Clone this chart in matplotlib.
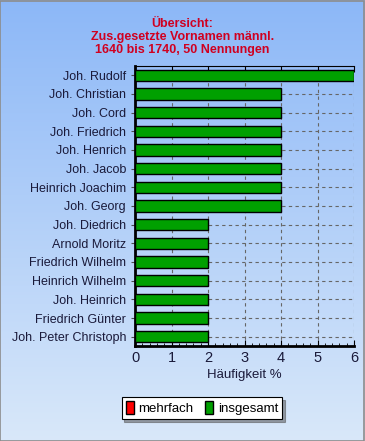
import matplotlib

matplotlib.use("Agg")
import matplotlib.pyplot as plt
import numpy as np
from matplotlib.patches import Patch, Rectangle
from matplotlib.ticker import MultipleLocator

plt.rcParams["font.family"] = ["Liberation Sans", "DejaVu Sans"]

names = ["Joh. Rudolf", "Joh. Christian", "Joh. Cord", "Joh. Friedrich",
         "Joh. Henrich", "Joh. Jacob", "Heinrich Joachim", "Joh. Georg",
         "Joh. Diedrich", "Arnold Moritz", "Friedrich Wilhelm",
         "Heinrich Wilhelm", "Joh. Heinrich", "Friedrich Günter",
         "Joh. Peter Christoph"]
insgesamt = [6, 4, 4, 4, 4, 4, 4, 4, 2, 2, 2, 2, 2, 2, 2]
title = "Übersicht:\nZus.gesetzte Vornamen männl.\n1640 bis 1740, 50 Nennungen"

fig = plt.figure(figsize=(3.65, 4.41), dpi=100)

# gradient background
bg = fig.add_axes([0, 0, 1, 1], zorder=-10)
top = np.array([0.55, 0.72, 0.97])
bot = np.array([0.85, 0.91, 0.98])
t = np.linspace(0, 1, 256)[:, None]
grad = top[None, :] * (1 - t) + bot[None, :] * t
bg.imshow(grad[:, None, :], aspect="auto", extent=[0, 1, 0, 1])
bg.add_patch(Rectangle((0.001, 0.001), 0.996, 0.996, fill=False,
                       ec="0.55", lw=1.2, transform=bg.transAxes))
bg.set_axis_off()

ax = fig.add_axes([0.370, 0.2154, 0.600, 0.635])
ax.patch.set_alpha(0)
y = np.arange(len(names))
ax.barh(y, insgesamt, 0.6, color="#00a000", edgecolor="black", lw=1, zorder=3)
ax.set_yticks(y, names, fontsize=9, color="#1a1a3a")
ax.set_ylim(len(names) - 0.5, -0.5)
ax.set_xlim(0, 6)
ax.xaxis.set_major_locator(MultipleLocator(1))
ax.xaxis.set_minor_locator(MultipleLocator(0.2))
ax.tick_params(axis="x", which="major", direction="in", length=4,
               top=True, labelsize=10.5, colors="black", labelcolor="#1a1a3a")
ax.tick_params(axis="x", which="minor", direction="in", length=2)
ax.tick_params(axis="y", direction="out", length=3, color="0.3")
ax.grid(True, axis="both", ls=(0, (3, 3)), lw=0.8, color="0.4", zorder=0)
ax.set_xlabel("Häufigkeit %", fontsize=9.5, color="#1a1a3a", labelpad=3)
ax.spines["left"].set_linewidth(2)
ax.spines["bottom"].set_linewidth(2)
ax.spines["top"].set_linewidth(0.8)
ax.spines["right"].set_visible(False)

fig.text(0.5, 0.96, title, ha="center", va="top", color="#d00020",
         fontsize=9, fontweight="bold", linespacing=1.12)

handles = [Patch(fc="#ff0000", ec="black", label="mehrfach"),
           Patch(fc="#00a000", ec="black", label="insgesamt")]
leg = fig.legend(handles=handles, loc="center", bbox_to_anchor=(0.553, 0.074),
                 ncol=2, fontsize=9.5, frameon=True, fancybox=False, shadow=True,
                 handlelength=0.6, handleheight=1.1, handletextpad=0.35,
                 columnspacing=0.9, borderpad=0.3, borderaxespad=0)
leg.get_frame().set_edgecolor("black")
leg.get_frame().set_linewidth(0.8)

fig.savefig("out.png", dpi=100)
